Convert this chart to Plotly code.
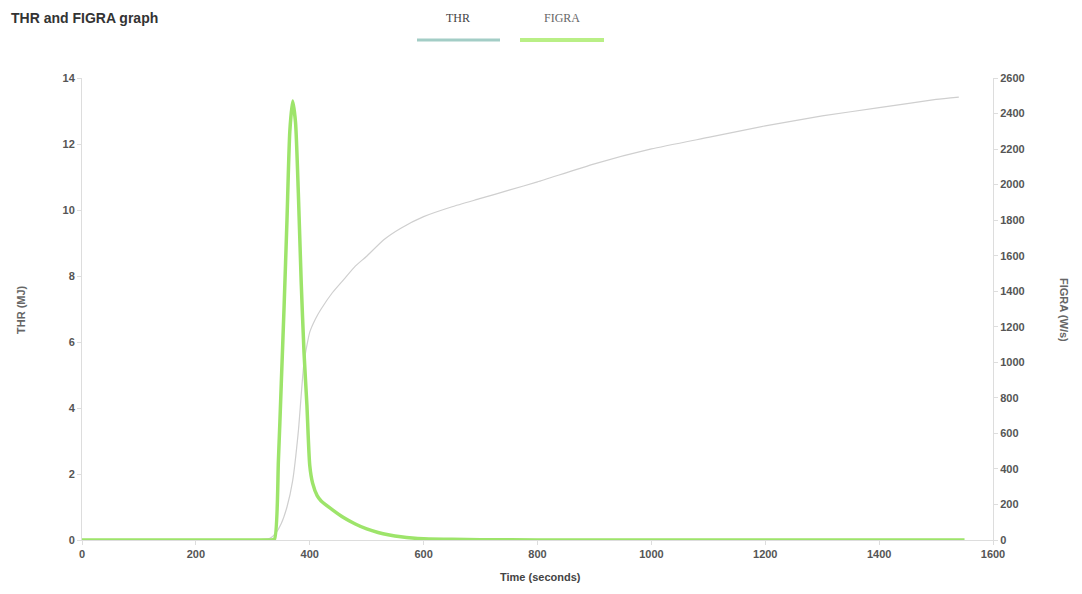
import plotly.graph_objects as go

# ---- data ----
thr_time = [0, 100, 200, 300, 330, 340, 350, 360, 370, 380, 390, 400, 410, 420, 440, 460, 480, 500,
            530, 560, 600, 650, 700, 750, 800, 900, 1000, 1100, 1200, 1300, 1400, 1500, 1540]
thr_mj = [0, 0, 0, 0, 0.05, 0.2, 0.5, 1.0, 1.8, 3.3, 5.4, 6.3, 6.7, 7.0, 7.5, 7.9, 8.3, 8.6,
          9.1, 9.45, 9.8, 10.1, 10.35, 10.6, 10.85, 11.4, 11.85, 12.2, 12.55, 12.85, 13.1, 13.35, 13.42]

figra_time = [0, 100, 200, 300, 330, 338, 345, 350, 355, 360, 365, 370, 375, 380, 385, 390, 395, 400,
              405, 413, 420, 440, 460, 480, 500, 520, 540, 560, 580, 600, 650, 700, 800, 1000, 1200, 1400, 1550]
figra_ws = [0, 0, 0, 0, 0, 5, 450, 880, 1320, 1800, 2300, 2470, 2350, 1950, 1450, 1050, 760, 420,
            320, 250, 220, 170, 125, 90, 62, 42, 28, 18, 11, 7, 4, 2, 0, 0, 0, 0, 0]

series_names = ["THR", "FIGRA"]
x_ticks = [0, 200, 400, 600, 800, 1000, 1200, 1400, 1600]

# ---- layout geometry (page pixels; the page body adds an 8px offset) ----
OFF = 8
W, H = 1082 - 2 * OFF, 594 - 2 * OFF
L, R, T, B = 82 - OFF, 993 - OFF, 78 - OFF, 540 - OFF
pw, ph = R - L, B - T


def px(x):
    return (x - OFF - L) / pw


def py(y):
    return (B - (y - OFF)) / ph


fig = go.Figure()
fig.add_trace(go.Scatter(x=thr_time, y=thr_mj, mode="lines", name=series_names[0],
                         line=dict(color="#cfcfcf", width=1.2, shape="spline", smoothing=0.5), yaxis="y"))
fig.add_trace(go.Scatter(x=figra_time, y=figra_ws, mode="lines", name=series_names[1],
                         line=dict(color="#9de46a", width=3.5, shape="spline", smoothing=0.6), yaxis="y2"))

tickfont = dict(family="Liberation Sans", size=11, color="#555555", weight="bold")

fig.update_layout(
    width=W, height=H,
    margin=dict(l=L, r=W - R, t=T, b=H - B),
    paper_bgcolor="white", plot_bgcolor="white",
    showlegend=False,
    xaxis=dict(range=[0, 1600], tickvals=x_ticks, showgrid=False, zeroline=False,
               showline=True, linecolor="#dddddd", linewidth=1,
               ticks="outside", ticklen=4, tickcolor="#dddddd", tickfont=tickfont),
    yaxis=dict(range=[0, 14], dtick=2, showgrid=False, zeroline=False,
               showline=True, linecolor="#dddddd", linewidth=1,
               ticks="outside", ticklen=4, tickcolor="#dddddd", tickfont=tickfont),
    yaxis2=dict(range=[0, 2600], dtick=200, overlaying="y", side="right", tickformat="d",
                showgrid=False, zeroline=False, showline=True, linecolor="#dddddd", linewidth=1,
                ticks="outside", ticklen=4, tickcolor="#dddddd", tickfont=tickfont),
)

ann = []
ann.append(dict(text="<b>THR and FIGRA graph</b>", x=px(9), y=py(18), xref="paper", yref="paper",
                xanchor="left", yanchor="middle", showarrow=False,
                font=dict(family="Liberation Sans", size=14, color="#333333")))
ann.append(dict(text=series_names[0], x=px(458), y=py(18), xref="paper", yref="paper",
                xanchor="center", yanchor="middle", showarrow=False,
                font=dict(family="Liberation Serif", size=12, color="#444444")))
ann.append(dict(text=series_names[1], x=px(562), y=py(18), xref="paper", yref="paper",
                xanchor="center", yanchor="middle", showarrow=False,
                font=dict(family="Liberation Serif", size=12, color="#666666")))
ann.append(dict(text="THR (MJ)", x=px(21), y=py(310), xref="paper", yref="paper", textangle=-90,
                xanchor="center", yanchor="middle", showarrow=False,
                font=dict(family="Liberation Sans", size=11, color="#666666", weight="bold")))
ann.append(dict(text="FIGRA (W/s)", x=px(1064), y=py(310), xref="paper", yref="paper", textangle=90,
                xanchor="center", yanchor="middle", showarrow=False,
                font=dict(family="Liberation Sans", size=11, color="#666666", weight="bold")))
ann.append(dict(text="Time (seconds)", x=px(540), y=py(577), xref="paper", yref="paper",
                xanchor="center", yanchor="middle", showarrow=False,
                font=dict(family="Liberation Sans", size=11, color="#444444", weight="bold")))
fig.update_layout(annotations=ann)

fig.add_shape(type="line", xref="paper", yref="paper", x0=px(417), x1=px(500), y0=py(40), y1=py(40),
              line=dict(color="#a3cdc6", width=3))
fig.add_shape(type="line", xref="paper", yref="paper", x0=px(520), x1=px(604), y0=py(40), y1=py(40),
              line=dict(color="#b9ef86", width=4))

fig.write_html("out.html")
